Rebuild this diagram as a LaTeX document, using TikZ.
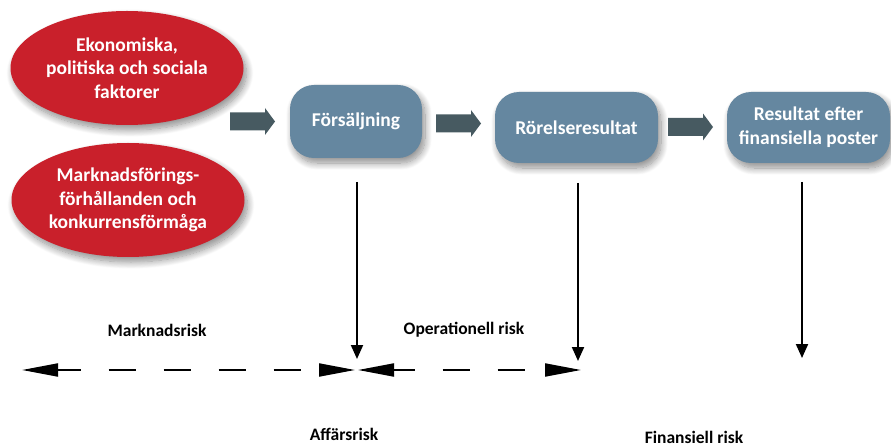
\documentclass[tikz,border=0pt]{standalone}
\usepackage{fontspec}
\setmainfont{Carlito}
\usetikzlibrary{arrows.meta,shapes.geometric,shadows.blur}

\definecolor{factorred}{HTML}{C9202B}
\definecolor{stageblue}{HTML}{6587A0}
\definecolor{flowgrey}{HTML}{475A61}

\tikzset{
  softshadow/.style={blur shadow={shadow xshift=3pt, shadow yshift=-5pt,
      shadow blur radius=7pt, shadow blur steps=12, shadow opacity=45}},
  factor/.style={ellipse, fill=factorred, softshadow, inner sep=0pt,
      minimum width=233pt, minimum height=114pt, align=center, text=white,
      font=\bfseries\fontsize{19.5}{23.5}\selectfont},
  stage/.style={rounded corners=24pt, fill=stageblue, softshadow, inner sep=0pt,
      align=center, text=white, font=\bfseries\fontsize{19.5}{24}\selectfont},
  blockarrow/.style={fill=flowgrey},
  riskline/.style={line width=2pt, -{Triangle[length=14pt,width=12pt]}},
  span/.style={line width=2pt, dash pattern=on 27.5pt off 27.5pt,
      {Triangle[length=36pt,width=13pt]}-{Triangle[length=36pt,width=13pt]}},
  risklabel/.style={font=\bfseries\fontsize{17.5}{21}\selectfont, inner sep=0pt},
}

\begin{document}
\begin{tikzpicture}[x=1pt,y=-1pt]
\useasboundingbox (0,0) rectangle (891,446);

% driving factors
\node[factor] (econ) at (127,68) {Ekonomiska,\\politiska och sociala\\faktorer};
\node[factor] (market) at (128,200) {Marknadsförings-\\förhållanden och\\konkurrensförmåga};

% result stages
\node[stage, minimum width=132pt, minimum height=73pt] (sales) at (356,121.5) {Försäljning};
\node[stage, minimum width=163pt, minimum height=71pt] (ebit) at (576.5,127.5) {Rörelseresultat};
\node[stage, minimum width=163pt, minimum height=71pt] (ebt) at (808.5,127.5) {Resultat efter\\finansiella poster};

% block arrows between the stages
\coordinate (a1) at (230,121.5);
\coordinate (a2) at (436,123.5);
\coordinate (a3) at (668,127);
\foreach \a in {a1,a2,a3}
  \fill[blockarrow] (\a) ++(0,-9) -- ++(35,0) -- ++(0,-4.5) -- ++(10,13.5)
      -- ++(-10,13.5) -- ++(0,-4.5) -- ++(-35,0) -- cycle;

% risk arrows down from the stages
\coordinate (s1top) at (357,182);  \coordinate (s1bot) at (357,359);
\coordinate (s2top) at (578,183);  \coordinate (s2bot) at (578,361);
\coordinate (s3top) at (802,182);  \coordinate (s3bot) at (802,358);
\draw[riskline] (s1top) -- (s1bot);
\draw[riskline] (s2top) -- (s2bot);
\draw[riskline] (s3top) -- (s3bot);

% risk spans
\coordinate (m1) at (22,370);  \coordinate (m2) at (355,370);
\coordinate (o1) at (358,370); \coordinate (o2) at (581,370);
\draw[span, dash phase=4pt] (m1) -- (m2);
\draw[span, dash phase=6pt] (o1) -- (o2);

% risk labels
\node[risklabel] (lmarket) at (157,330) {Marknadsrisk};
\node[risklabel] (lop) at (464,330) {Operationell risk};
\node[risklabel, anchor=base] (lbiz) at (344,440) {Affärsrisk};
\node[risklabel, anchor=base] (lfin) at (694,443) {Finansiell risk};
\end{tikzpicture}
\end{document}
